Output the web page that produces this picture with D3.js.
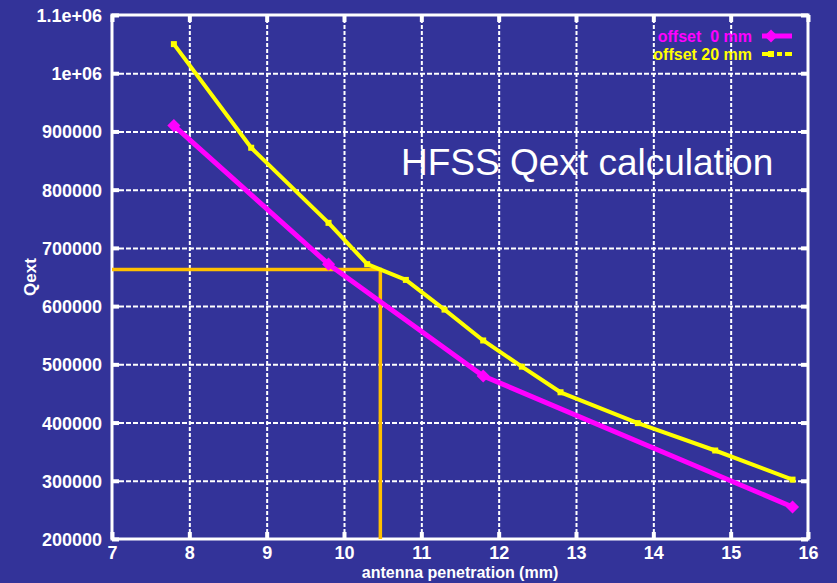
<!DOCTYPE html>
<html>
<head>
<meta charset="utf-8">
<script src="https://cdn.jsdelivr.net/npm/d3@7"></script>
<style>
  body { margin: 0; background: #333399; }
  text { font-family: "Liberation Sans", Arial, sans-serif; fill: #ffffff; }
</style>
</head>
<body>
<div id="chart"></div>
<script>
// data
var offset0X = [7.8, 9.8, 11.8, 15.8];
var offset0Y = [910000, 672000, 480000, 255000];
var offset20X = [7.8, 8.8, 9.8, 10.3, 10.8, 11.3, 11.8, 12.3, 12.8, 13.8, 14.8, 15.8];
var offset20Y = [1050000, 872000, 743000, 672000, 645000, 594000, 541000, 496000, 452000, 399000, 352000, 302000];
var seriesNames = ["offset  0 mm", "offset 20 mm"];
var xTicks = [7, 8, 9, 10, 11, 12, 13, 14, 15, 16];
var yTicks = [200000, 300000, 400000, 500000, 600000, 700000, 800000, 900000, 1000000, 1100000];
var yTickLabels = ["200000", "300000", "400000", "500000", "600000", "700000", "800000", "900000", "1e+06", "1.1e+06"];
var markX = 10.47, markY = 663000;

// set the dimensions and margins of the graph
var margin = {top: 15, right: 29, bottom: 44, left: 112},
    width = 837 - margin.left - margin.right,
    height = 583 - margin.top - margin.bottom;

var root = d3.select("#chart")
    .append("svg")
    .attr("width", 837)
    .attr("height", 583);

root.append("rect")
    .attr("width", 837)
    .attr("height", 583)
    .attr("fill", "#333399");

var svg = root.append("g")
    .attr("transform", "translate(" + margin.left + "," + margin.top + ")");

var x = d3.scaleLinear().domain([7, 16]).range([0, width]);
var y = d3.scaleLinear().domain([200000, 1100000]).range([height, 0]);

// dotted grid
svg.append("g")
    .attr("transform", "translate(0," + height + ")")
    .call(d3.axisBottom(x).tickValues(xTicks.slice(1, -1)).tickSize(-height).tickFormat(""))
    .call(function(g) { g.select(".domain").remove(); })
    .selectAll("line")
    .attr("stroke", "#ffffff")
    .attr("stroke-width", 2)
    .attr("stroke-dasharray", "4,2");

svg.append("g")
    .call(d3.axisLeft(y).tickValues(yTicks.slice(1, -1)).tickSize(-width).tickFormat(""))
    .call(function(g) { g.select(".domain").remove(); })
    .selectAll("line")
    .attr("stroke", "#ffffff")
    .attr("stroke-width", 2)
    .attr("stroke-dasharray", "5,2");

// Add X axis
svg.append("g")
    .attr("transform", "translate(0," + height + ")")
    .call(d3.axisBottom(x).tickValues(xTicks).tickSizeInner(-7).tickSizeOuter(0).tickPadding(8))
    .call(function(g) { g.select(".domain").remove(); })
    .call(function(g) { g.selectAll("line").attr("stroke", "#ffffff").attr("stroke-width", 4); })
    .selectAll("text")
    .attr("y", 20)
    .attr("dy", 0)
    .style("font-size", "18px")
    .style("font-weight", "bold")
    .attr("fill", "#ffffff");

// Y axis
svg.append("g")
    .call(d3.axisLeft(y).tickValues(yTicks).tickFormat(function(d, i) { return yTickLabels[i]; })
        .tickSizeInner(-7).tickSizeOuter(0).tickPadding(10))
    .call(function(g) { g.select(".domain").remove(); })
    .call(function(g) { g.selectAll("line").attr("stroke", "#ffffff").attr("stroke-width", 4); })
    .selectAll("text")
    .attr("dy", "0.36em")
    .style("font-size", "18px")
    .style("font-weight", "bold")
    .attr("fill", "#ffffff");

// ticks on top and right
svg.append("g")
    .call(d3.axisTop(x).tickValues(xTicks).tickSizeInner(-7).tickSizeOuter(0).tickFormat(""))
    .call(function(g) { g.select(".domain").remove(); })
    .selectAll("line").attr("stroke", "#ffffff").attr("stroke-width", 4);

svg.append("g")
    .attr("transform", "translate(" + width + ",0)")
    .call(d3.axisRight(y).tickValues(yTicks).tickSizeInner(-7).tickSizeOuter(0).tickFormat(""))
    .call(function(g) { g.select(".domain").remove(); })
    .selectAll("line").attr("stroke", "#ffffff").attr("stroke-width", 4);

// frame
svg.append("rect")
    .attr("width", width)
    .attr("height", height)
    .attr("fill", "none")
    .attr("stroke", "#ffffff")
    .attr("stroke-width", 3);

// orange read-off lines
svg.append("path")
    .attr("d", "M" + x(7) + "," + y(markY) + "H" + x(markX) + "V" + y(200000))
    .attr("fill", "none")
    .attr("stroke", "#ffc000")
    .attr("stroke-width", 3.5);

var line = d3.line()
    .x(function(d) { return x(d[0]); })
    .y(function(d) { return y(d[1]); });

var pts0 = offset0X.map(function(v, i) { return [v, offset0Y[i]]; });
var pts20 = offset20X.map(function(v, i) { return [v, offset20Y[i]]; });

// offset 20 mm
svg.append("path")
    .datum(pts20)
    .attr("d", line)
    .attr("fill", "none")
    .attr("stroke", "#ffff00")
    .attr("stroke-width", 4)
    .attr("stroke-linejoin", "round");

svg.selectAll("pt20")
    .data(pts20)
    .enter()
    .append("rect")
    .attr("x", function(d) { return x(d[0]) - 3; })
    .attr("y", function(d) { return y(d[1]) - 3; })
    .attr("width", 6)
    .attr("height", 6)
    .attr("fill", "#ffff00");

// offset 0 mm
svg.append("path")
    .datum(pts0)
    .attr("d", line)
    .attr("fill", "none")
    .attr("stroke", "#ff00ff")
    .attr("stroke-width", 5)
    .attr("stroke-linejoin", "round");

var diamond = d3.symbol().type(d3.symbolDiamond2).size(110);
svg.selectAll("pt0")
    .data(pts0)
    .enter()
    .append("path")
    .attr("d", diamond)
    .attr("transform", function(d) { return "translate(" + x(d[0]) + "," + y(d[1]) + ")"; })
    .attr("fill", "#ff00ff");

// legend
var legColors = ["#ff00ff", "#ffff00"];
seriesNames.forEach(function(name, i) {
    var ly = 42 + i * 18;
    root.append("text")
        .attr("x", 752)
        .attr("y", ly)
        .style("text-anchor", "end")
        .style("font-size", "16px")
        .style("font-weight", "bold")
        .style("white-space", "pre")
        .attr("xml:space", "preserve")
        .style("fill", legColors[i])
        .text(name);
    root.append("line")
        .attr("x1", 762).attr("x2", 792)
        .attr("y1", ly - 6).attr("y2", ly - 6)
        .attr("stroke", legColors[i])
        .attr("stroke-width", i === 0 ? 5 : 4)
        .attr("stroke-dasharray", i === 0 ? null : "12,3,5,3");
    if (i === 0) {
        root.append("path")
            .attr("d", diamond)
            .attr("transform", "translate(771," + (ly - 6) + ")")
            .attr("fill", legColors[i]);
    } else {
        root.append("rect")
            .attr("x", 768).attr("y", ly - 9)
            .attr("width", 6).attr("height", 6)
            .attr("fill", legColors[i]);
    }
});

// titles
root.append("text")
    .attr("x", 401)
    .attr("y", 175)
    .style("font-size", "37px")
    .text("HFSS Qext calculation");

root.append("text")
    .attr("x", 460)
    .attr("y", 578)
    .style("text-anchor", "middle")
    .style("font-size", "16px")
    .style("font-weight", "bold")
    .text("antenna penetration (mm)");

root.append("text")
    .attr("transform", "translate(36,277) rotate(-90)")
    .style("text-anchor", "middle")
    .style("font-size", "17px")
    .style("font-weight", "bold")
    .text("Qext");
</script>
</body>
</html>
